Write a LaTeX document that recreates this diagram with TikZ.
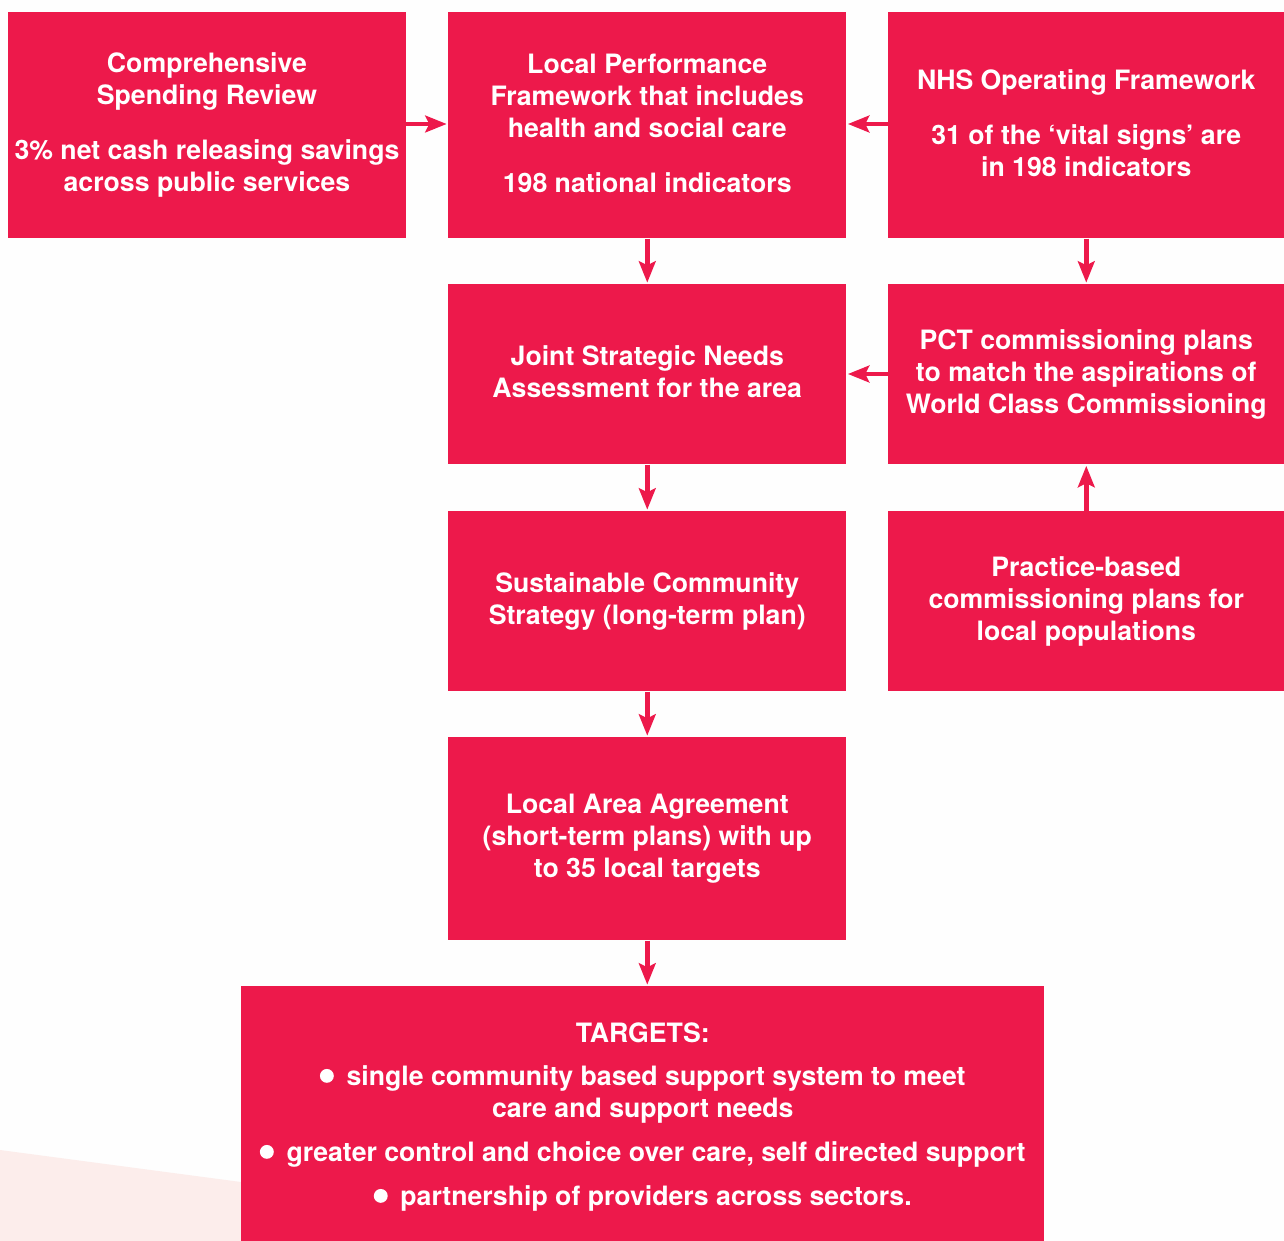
\documentclass[tikz,border=0pt]{standalone}
\usepackage{fontspec}
\setmainfont{TeX Gyre Heros}
\usetikzlibrary{arrows.meta}
\definecolor{nhsred}{RGB}{237,25,75}
\definecolor{faint}{RGB}{252,237,235}
\definecolor{bg}{RGB}{254,254,254}
\newcommand\blt{\tikz[baseline=0pt]\fill[white] (0pt,0.37em) circle[radius=0.26em];\hspace{0.2em}}
\begin{document}
\begin{tikzpicture}[x=0.75pt,y=-0.75pt,
  box/.style={fill=nhsred,draw=none,text=white,font=\fontsize{20}{24}\selectfont\bfseries,align=center,inner sep=0pt,anchor=north west},
  lbl/.style={text=white,font=\fontsize{20}{24}\selectfont\bfseries,align=center,inner sep=0pt},
  arr/.style={draw=nhsred,line width=3.6pt,-{Stealth[length=16pt,width=12.5pt,inset=3pt]},shorten >=1pt}]
\fill[bg] (0,0) rectangle (1284,1241);
\useasboundingbox (0,0) rectangle (1284,1241);
\fill[faint] (0,1150) -- (241,1182) -- (241,1241) -- (0,1241) -- cycle;
\node[box,minimum width=298pt,minimum height=169.5pt] (A) at (8,12) {Comprehensive\\Spending Review\\[17pt]3\% net cash releasing savings\\across public services};
\node[box,minimum width=298.5pt,minimum height=169.5pt] (B) at (448,12) {};
\node[lbl] (Bt) at ([yshift=1.5pt]B.center) {Local Performance\\Framework that includes\\health and social care\\[17pt]198 national indicators};
\node[box,minimum width=297pt,minimum height=169.5pt] (C) at (888,12) {};
\node[lbl] (Ct) at ([yshift=1.5pt]C.center) {NHS Operating Framework\\[17pt]31 of the ‘vital signs’ are\\in 198 indicators};
\node[box,minimum width=298.5pt,minimum height=135pt] (D) at (448,284) {};
\node[lbl] (Dt) at ([yshift=2pt]D.center) {Joint Strategic Needs\\Assessment for the area};
\node[box,minimum width=297pt,minimum height=135pt] (E) at (888,284) {PCT commissioning plans\\to match the aspirations of\\World Class Commissioning};
\node[box,minimum width=298.5pt,minimum height=135pt] (F) at (448,511) {Sustainable Community\\Strategy (long-term plan)};
\node[box,minimum width=297pt,minimum height=135pt] (G) at (888,511) {Practice-based\\commissioning plans for\\local populations};
\node[box,minimum width=298.5pt,minimum height=152.25pt] (H) at (448,737) {Local Area Agreement\\(short-term plans) with up\\to 35 local targets};
\node[box,minimum width=602.25pt,minimum height=191.25pt] (I) at (241,986) {};
\node[lbl] (It) at ([yshift=-2.5pt]I.center) {TARGETS:\\[8.5pt]\blt\ single community based support system to meet\\care and support needs\\[9pt]\blt\ greater control and choice over care, self directed support\\[9pt]\blt\ partnership of providers across sectors.};
\draw[arr] (A.east |- 0,124) -- (B.west |- 0,124);
\draw[arr] (C.west |- 0,124) -- (B.east |- 0,124);
\draw[arr] (B.south) -- (D.north);
\draw[arr] (C.south) -- (E.north);
\draw[arr] (E.west |- 0,374) -- (D.east |- 0,374);
\draw[arr] (G.north) -- (E.south);
\draw[arr] (D.south) -- (F.north);
\draw[arr] (F.south) -- (H.north);
\draw[arr] (H.south) -- (B.south |- I.north);
\end{tikzpicture}
\end{document}
